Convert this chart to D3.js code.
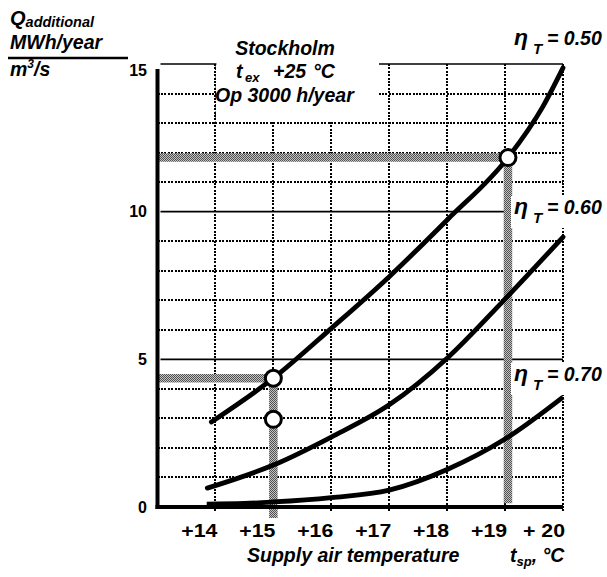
<!DOCTYPE html>
<html>
<head>
<meta charset="utf-8">
<script src="https://cdn.jsdelivr.net/npm/d3@7"></script>
<style>
  body { margin: 0; background: #fff; }
  text { font-family: "Liberation Sans", Arial, sans-serif; font-weight: bold; fill: #000; }
</style>
</head>
<body>
<div id="chart"></div>
<script>
// values
var xTicks = [14, 15, 16, 17, 18, 19, 20];
var xTickLabels = ["+14", "+15", "+16", "+17", "+18", "+19", "+ 20"];
var yMajor = [0, 5, 10, 15];
var yMinor = [1, 2, 3, 4, 6, 7, 8, 9, 11, 12, 13, 14];

var eta50 = [[13.93, 2.88], [15, 4.36], [16, 6.05], [17, 7.8], [18, 9.72], [19.05, 11.83], [19.65, 13.55], [20, 14.87]];
var eta60 = [[13.86, 0.64], [15, 1.42], [16, 2.37], [17, 3.46], [18, 5.04], [18.95, 6.94], [20, 9.14]];
var eta70 = [[13.85, 0.1], [14.5, 0.12], [15, 0.17], [16, 0.32], [17, 0.57], [18, 1.27], [19, 2.3], [20, 3.72]];
var curveNames = ["0.50", "0.60", "0.70"];

var markers = [[15, 4.36], [15, 2.97], [19.05, 11.83]];
// reading guides: [x0, y0, x1, y1]
var guides = [[13, 11.83, 19.05, 11.83], [19.05, 11.83, 19.05, 0.13],
              [13, 4.36, 15, 4.36], [15, 4.36, 15, -0.37]];

var width = 607, height = 577;

var x = d3.scaleLinear().domain([13, 20]).range([157.5, 563]);
var y = d3.scaleLinear().domain([0, 15]).range([507, 64]);

var svg = d3.select("#chart").append("svg")
    .attr("width", width)
    .attr("height", height);

var defs = svg.append("defs");
var pat = defs.append("pattern")
    .attr("id", "chk")
    .attr("width", 2).attr("height", 2)
    .attr("patternUnits", "userSpaceOnUse");
pat.append("rect").attr("width", 2).attr("height", 2).attr("fill", "#c4c4c4");
pat.append("rect").attr("width", 1).attr("height", 1).attr("fill", "#505050");
pat.append("rect").attr("x", 1).attr("y", 1).attr("width", 1).attr("height", 1).attr("fill", "#505050");

// dotted grid
var grid = svg.append("g")
    .attr("stroke", "#000")
    .attr("stroke-width", 2)
    .attr("stroke-dasharray", "2,1.4")
    .attr("shape-rendering", "crispEdges");

grid.selectAll(".hminor")
    .data(yMinor)
  .enter().append("line")
    .attr("x1", x(13)).attr("x2", x(20))
    .attr("y1", function(d) { return Math.round(y(d)); })
    .attr("y2", function(d) { return Math.round(y(d)); });

grid.selectAll(".vgrid")
    .data(xTicks)
  .enter().append("line")
    .attr("x1", function(d) { return Math.round(x(d)); })
    .attr("x2", function(d) { return Math.round(x(d)); })
    .attr("y1", y(15))
    .attr("y2", y(0) + 4);

svg.selectAll(".hmajor")
    .data(yMajor.slice(1))
  .enter().append("line")
    .attr("x1", x(13) + 3).attr("x2", x(20))
    .attr("y1", function(d) { return y(d); })
    .attr("y2", function(d) { return y(d); })
    .attr("stroke", "#000")
    .attr("stroke-width", 1.6);

// white box holding the conditions
svg.append("rect")
    .attr("x", x(14) + 1).attr("y", 20)
    .attr("width", 378 - x(14)).attr("height", y(13) - 22)
    .attr("fill", "#fff");
svg.append("line")
    .attr("x1", x(14)).attr("x2", x(14))
    .attr("y1", y(15)).attr("y2", y(13))
    .attr("stroke", "#000")
    .attr("stroke-width", 1)
    .attr("stroke-dasharray", "1,1.5");

var box = svg.append("g").style("font-style", "italic").style("font-size", "19.5px");
box.append("text").attr("x", 285).attr("y", 55).attr("text-anchor", "middle").text("Stockholm");
var tex = box.append("text").attr("y", 78);
tex.append("tspan").attr("x", 236).text("t");
tex.append("tspan").attr("x", 245).attr("dy", 4).style("font-size", "13px").text("ex");
tex.append("tspan").attr("x", 273).attr("dy", -4).text("+25");
tex.append("tspan").attr("x", 313).text("\u00b0C");
box.append("text").attr("x", 215).attr("y", 102).text("Op 3000 h/year");

// reading guides
svg.selectAll(".guide")
    .data(guides)
  .enter().append("line")
    .attr("x1", function(d) { return x(d[0]); })
    .attr("y1", function(d) { return y(d[1]); })
    .attr("x2", function(d) { return x(d[2]); })
    .attr("y2", function(d) { return y(d[3]); })
    .attr("stroke", "url(#chk)")
    .attr("stroke-width", 8.5);

// efficiency curves
var line = d3.line()
    .x(function(d) { return x(d[0]); })
    .y(function(d) { return y(d[1]); })
    .curve(d3.curveMonotoneX);

svg.selectAll(".curve")
    .data([eta50, eta60, eta70])
  .enter().append("path")
    .attr("d", line)
    .attr("fill", "none")
    .attr("stroke", "#000")
    .attr("stroke-width", 4.8)
    .attr("stroke-linecap", function(d, i) { return i === 2 ? "butt" : "round"; });

// axes
svg.append("line")
    .attr("x1", x(13)).attr("x2", x(13))
    .attr("y1", y(15) + 5).attr("y2", y(0) + 2)
    .attr("stroke", "#000").attr("stroke-width", 4);
svg.append("line")
    .attr("x1", x(13) - 2).attr("x2", x(20))
    .attr("y1", y(0)).attr("y2", y(0))
    .attr("stroke", "#000").attr("stroke-width", 4);

svg.selectAll(".marker")
    .data(markers)
  .enter().append("circle")
    .attr("cx", function(d) { return x(d[0]); })
    .attr("cy", function(d) { return y(d[1]); })
    .attr("r", 8)
    .attr("fill", "#fff")
    .attr("stroke", "#000")
    .attr("stroke-width", 3);

// tick labels
svg.selectAll(".ylab")
    .data(yMajor)
  .enter().append("text")
    .attr("x", 147)
    .attr("y", function(d) { return y(d) + (d === 15 ? 6 : 0); })
    .attr("dy", "0.36em")
    .attr("text-anchor", "end")
    .style("font-size", "16px")
    .text(function(d) { return d; });

// x labels are a little wider in the original, stretch them
svg.selectAll(".xlab")
    .data(xTicks)
  .enter().append("text")
    .attr("transform", function(d) { return "translate(" + (x(d) + 2) + ",537) scale(1.12,1)"; })
    .attr("text-anchor", "end")
    .style("font-size", "19px")
    .text(function(d, i) { return xTickLabels[i]; });

// axis titles
var ttl = svg.append("g").style("font-style", "italic");
var q = ttl.append("text").attr("x", 10).attr("y", 25).style("font-size", "20px");
q.append("tspan").text("Q");
q.append("tspan").attr("dy", 2).style("font-size", "14.5px").text("additional");
ttl.append("text").attr("x", 10).attr("y", 49).style("font-size", "19.5px").text("MWh/year");
svg.append("line")
    .attr("x1", 8).attr("x2", 128)
    .attr("y1", 58).attr("y2", 58)
    .attr("stroke", "#000").attr("stroke-width", 2.5);
var m3 = ttl.append("text").attr("x", 10).attr("y", 76).style("font-size", "19.5px");
m3.append("tspan").text("m");
m3.append("tspan").attr("dy", -8).style("font-size", "12px").text("3");
m3.append("tspan").attr("dy", 8).text("/s");

ttl.append("text").attr("x", 247).attr("y", 562).style("font-size", "19.5px").text("Supply air temperature");
var tsp = ttl.append("text").attr("y", 562).style("font-size", "19.5px");
tsp.append("tspan").attr("x", 510).text("t");
tsp.append("tspan").attr("dy", 4).style("font-size", "13px").text("sp");
tsp.append("tspan").attr("dy", -4).text(", \u00b0C");

// curve labels with white backing
var labelY = [45, 214, 381];
svg.selectAll(".lblbg")
    .data(labelY.slice(1))
  .enter().append("rect")
    .attr("x", 511).attr("y", function(d) { return d - 18; })
    .attr("width", 96).attr("height", 32)
    .attr("fill", "#fff");

var etaLabels = svg.append("g").style("font-style", "italic");
curveNames.forEach(function(name, i) {
  var t = etaLabels.append("text").attr("y", labelY[i]);
  t.append("tspan").attr("x", 514).style("font-size", "23px").text("\u03b7");
  t.append("tspan").attr("x", 533).attr("dy", 9).style("font-size", "15px").text("T");
  t.append("tspan").attr("x", 547).attr("dy", -9).style("font-size", "19.5px").text("= " + name);
});
</script>
</body>
</html>
